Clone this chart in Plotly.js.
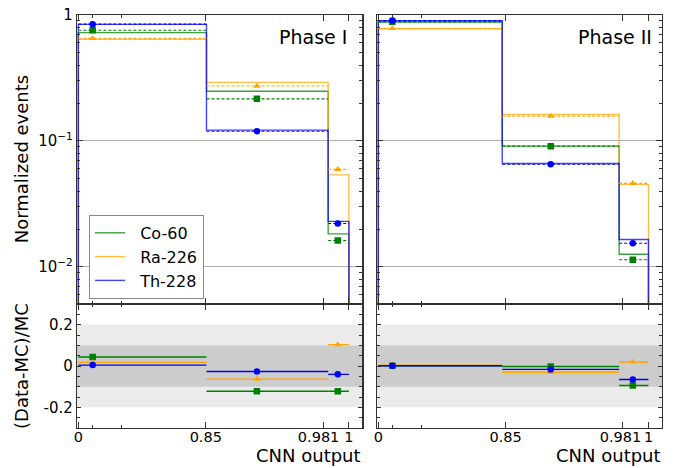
<!DOCTYPE html>
<html>
<head>
<meta charset="utf-8">
<script src="https://cdn.plot.ly/plotly-3.0.1.min.js"></script>
<style>html,body{margin:0;padding:0;background:#fff;}#plot{width:678px;height:468px;}</style>
</head>
<body>
<div id="plot"></div>
<script>
// ---- data ----
const sources = ["Co-60", "Ra-226", "Th-228"];
const tickLabelsP1 = ["0", "0.85", "0.981\u00a0\u00a0", "1"];
const tickLabelsP2 = ["0", "0.85", "0.981\u00a0", "1"];
const tickPos = [0, 0.471, 0.905, 1];          // axis positions of the tick labels
const minorTickPos = [0.052, 0.161];

// bin edges (axis units) and mean position of data in each bin
const edgesP1 = [0, 0.4736, 0.9234, 1];
const edgesP2 = [0, 0.4586, 0.8913, 1];
const meanP1 = [0.053, 0.660, 0.959];
const meanP2 = [0.052, 0.638, 0.942];

// Phase I normalized events
const mcP1_Co = [0.724, 0.248, 0.0183];
const mcP1_Ra = [0.641, 0.292, 0.0538];
const mcP1_Th = [0.843, 0.122, 0.0230];
const dataP1_Co = [0.756, 0.216, 0.0162];
const dataP1_Ra = [0.652, 0.273, 0.0595];
const dataP1_Th = [0.846, 0.1195, 0.0221];
// Phase II normalized events
const mcP2_Co = [0.880, 0.0910, 0.0126];
const mcP2_Ra = [0.778, 0.1626, 0.0452];
const mcP2_Th = [0.901, 0.0663, 0.01651];
const dataP2_Co = [0.882, 0.0910, 0.0114];
const dataP2_Ra = [0.782, 0.1576, 0.0461];
const dataP2_Th = [0.903, 0.0653, 0.01543];

// (Data-MC)/MC
const ratioP1_Co = [0.044, -0.122, -0.122];
const ratioP1_Ra = [0.018, -0.063, 0.104];
const ratioP1_Th = [0.005, -0.026, -0.040];
const ratioP2_Co = [0.002, -0.002, -0.094];
const ratioP2_Ra = [0.005, -0.030, 0.020];
const ratioP2_Th = [0.002, -0.016, -0.065];

// ---- styles ----
const colors = {"Co-60": "#008000", "Ra-226": "#FFA500", "Th-228": "#0000FF"};
const symbols = {"Co-60": "square", "Ra-226": "triangle-up", "Th-228": "circle"};
const FONT = "DejaVu Sans, Liberation Sans, sans-serif";
const FLOOR = 1e-5;
const LEG_PAD = "\u00a0\u00a0";

const traces = [];

function stepXY(edges, vals) {
  return {x: [edges[0]].concat(edges), y: [FLOOR].concat(vals).concat([FLOOR])};
}
function segXY(edges, vals) {
  const x = [], y = [];
  vals.forEach((v, i) => { x.push(edges[i], edges[i + 1], null); y.push(v, v, null); });
  return {x, y};
}

function addPhase(xa, ya, xr, yr, edges, means, mc, data, ratio, showLeg) {
  sources.forEach((s, k) => {
    const st = stepXY(edges, mc[k]);
    traces.push({x: st.x, y: st.y, xaxis: xa, yaxis: ya, type: "scatter", mode: "lines",
      line: {shape: "hv", color: colors[s], width: 1.4}, opacity: 0.75,
      name: LEG_PAD + s, legendgroup: s, showlegend: showLeg, hoverinfo: "skip"});
  });
  sources.forEach((s, k) => {
    const sg = segXY(edges, data[k]);
    traces.push({x: sg.x, y: sg.y, xaxis: xa, yaxis: ya, type: "scatter", mode: "lines",
      line: {color: colors[s], width: 1.1, dash: "3px,2px"}, showlegend: false, hoverinfo: "skip"});
    traces.push({x: means, y: data[k], xaxis: xa, yaxis: ya, type: "scatter", mode: "markers",
      marker: {color: colors[s], symbol: symbols[s], size: 6.5, line: {width: 0}}, showlegend: false});
  });
  sources.forEach((s, k) => {
    traces.push({x: means, y: ratio[k], xaxis: xr, yaxis: yr, type: "scatter", mode: "markers",
      marker: {color: colors[s], symbol: symbols[s], size: 6.5, line: {width: 0}},
      error_x: {type: "data", symmetric: false,
        array: means.map((m, i) => edges[i + 1] - m),
        arrayminus: means.map((m, i) => m - edges[i]),
        width: 0, thickness: 1.4, color: colors[s]},
      showlegend: false});
  });
}

addPhase("x", "y", "x3", "y3", edgesP1, meanP1,
  [mcP1_Co, mcP1_Ra, mcP1_Th], [dataP1_Co, dataP1_Ra, dataP1_Th],
  [ratioP1_Co, ratioP1_Ra, ratioP1_Th], true);
addPhase("x2", "y2", "x4", "y4", edgesP2, meanP2,
  [mcP2_Co, mcP2_Ra, mcP2_Th], [dataP2_Co, dataP2_Ra, dataP2_Th],
  [ratioP2_Co, ratioP2_Ra, ratioP2_Th], false);

// ---- axes ----
const lineCol = "#333333";
const logMinor = [];
[0.001, 0.01, 0.1].forEach(d => { for (let m = 2; m <= 9; m++) logMinor.push(m * d); });
const ratioMinor = [];
for (let v = -0.3; v <= 0.301; v += 0.05) ratioMinor.push(Math.round(v * 100) / 100);

function xAxis(domain, anchor, labels, texts) {
  return {domain: domain, anchor: anchor, range: [-0.005, 1.05], showgrid: false, zeroline: false,
    tickmode: "array", tickvals: tickPos, ticktext: texts, showticklabels: labels, tickangle: 0,
    ticklabelstandoff: -5,
    ticks: "inside", ticklen: 6, tickwidth: 1, tickcolor: lineCol,
    showline: true, linecolor: lineCol, linewidth: 1.2, mirror: "allticks",
    minor: {tickvals: minorTickPos, ticks: "inside", ticklen: 3, tickcolor: lineCol, showgrid: false},
    tickfont: {family: FONT, size: 14.5, color: "#000"}};
}
function yLog(anchor, labels) {
  return {domain: [0.2997, 1], anchor: anchor, type: "log", range: [-2.296, 0],
    tickmode: "array", tickvals: [0.01, 0.1, 1],
    ticktext: ["10<sup>\u22122</sup>", "10<sup>\u22121</sup>", "1"], showticklabels: labels,
    showgrid: true, gridcolor: "#b0b0b0", gridwidth: 1, zeroline: false,
    ticks: "inside", ticklen: 6, tickcolor: lineCol,
    showline: true, linecolor: lineCol, linewidth: 1.2, mirror: "allticks",
    minor: {tickvals: logMinor, ticks: "inside", ticklen: 3, tickcolor: lineCol, showgrid: false},
    tickfont: {family: FONT, size: 15, color: "#000"}};
}
function yRatio(anchor, labels) {
  return {domain: [0, 0.2997], anchor: anchor, range: [-0.3, 0.3],
    tickmode: "array", tickvals: [-0.2, 0, 0.2], ticktext: ["-0.2", "0", "0.2"], showticklabels: labels,
    showgrid: false, zeroline: false,
    ticks: "inside", ticklen: 4, tickcolor: lineCol,
    showline: true, linecolor: lineCol, linewidth: 1.2, mirror: "allticks",
    minor: {tickvals: ratioMinor, ticks: "inside", ticklen: 3, tickcolor: lineCol, showgrid: false},
    tickfont: {family: FONT, size: 15, color: "#000"}};
}

const dL = [0, 0.4879], dR = [0.5128, 1];

const layout = {
  width: 678, height: 468,
  margin: {l: 77, r: 16, t: 15, b: 40},
  paper_bgcolor: "#fff", plot_bgcolor: "rgba(0,0,0,0)",
  font: {family: FONT, size: 15, color: "#000"},
  showlegend: true,
  legend: {x: 0.0205, y: 0.516, xanchor: "left", yanchor: "top",
    bgcolor: "#fff", bordercolor: "#888", borderwidth: 1,
    font: {family: FONT, size: 16, color: "#000"}, tracegroupgap: 0},
  xaxis: xAxis(dL, "y", false, tickLabelsP1),
  xaxis2: xAxis(dR, "y2", false, tickLabelsP2),
  xaxis3: xAxis(dL, "y3", true, tickLabelsP1),
  xaxis4: xAxis(dR, "y4", true, tickLabelsP2),
  yaxis: yLog("x", true),
  yaxis2: yLog("x2", false),
  yaxis3: yRatio("x3", true),
  yaxis4: yRatio("x4", false),
  shapes: [],
  annotations: [
    {text: "Phase I", xref: "x domain", yref: "y domain", x: 0.953, y: 0.925, xanchor: "right", yanchor: "middle",
      showarrow: false, font: {family: FONT, size: 19, color: "#000"}},
    {text: "Phase II", xref: "x2 domain", yref: "y2 domain", x: 0.973, y: 0.925, xanchor: "right", yanchor: "middle",
      showarrow: false, font: {family: FONT, size: 19, color: "#000"}},
    {text: "CNN output", xref: "x3 domain", yref: "paper", x: 1.003, y: -0.066, xanchor: "right", yanchor: "middle",
      showarrow: false, font: {family: FONT, size: 18, color: "#000"}},
    {text: "CNN output", xref: "x4 domain", yref: "paper", x: 1.003, y: -0.066, xanchor: "right", yanchor: "middle",
      showarrow: false, font: {family: FONT, size: 18, color: "#000"}},
    {text: "Normalized events", xref: "paper", yref: "paper", x: -0.0945, y: 0.65, xanchor: "center", yanchor: "middle",
      textangle: -90, showarrow: false, font: {family: FONT, size: 18, color: "#000"}},
    {text: "(Data-MC)/MC", xref: "paper", yref: "paper", x: -0.0945, y: 0.1495, xanchor: "center", yanchor: "middle",
      textangle: -90, showarrow: false, font: {family: FONT, size: 18, color: "#000"}}
  ]
};

[["x3", "y3"], ["x4", "y4"]].forEach(([xa, ya]) => {
  layout.shapes.push({type: "rect", xref: xa + " domain", yref: ya, x0: 0, x1: 1, y0: -0.2, y1: 0.2,
    fillcolor: "#ebebeb", line: {width: 0}, layer: "below"});
  layout.shapes.push({type: "rect", xref: xa + " domain", yref: ya, x0: 0, x1: 1, y0: -0.1, y1: 0.1,
    fillcolor: "#cccccc", line: {width: 0}, layer: "below"});
});

Plotly.newPlot("plot", traces, layout, {staticPlot: true, displayModeBar: false});
</script>
</body>
</html>
